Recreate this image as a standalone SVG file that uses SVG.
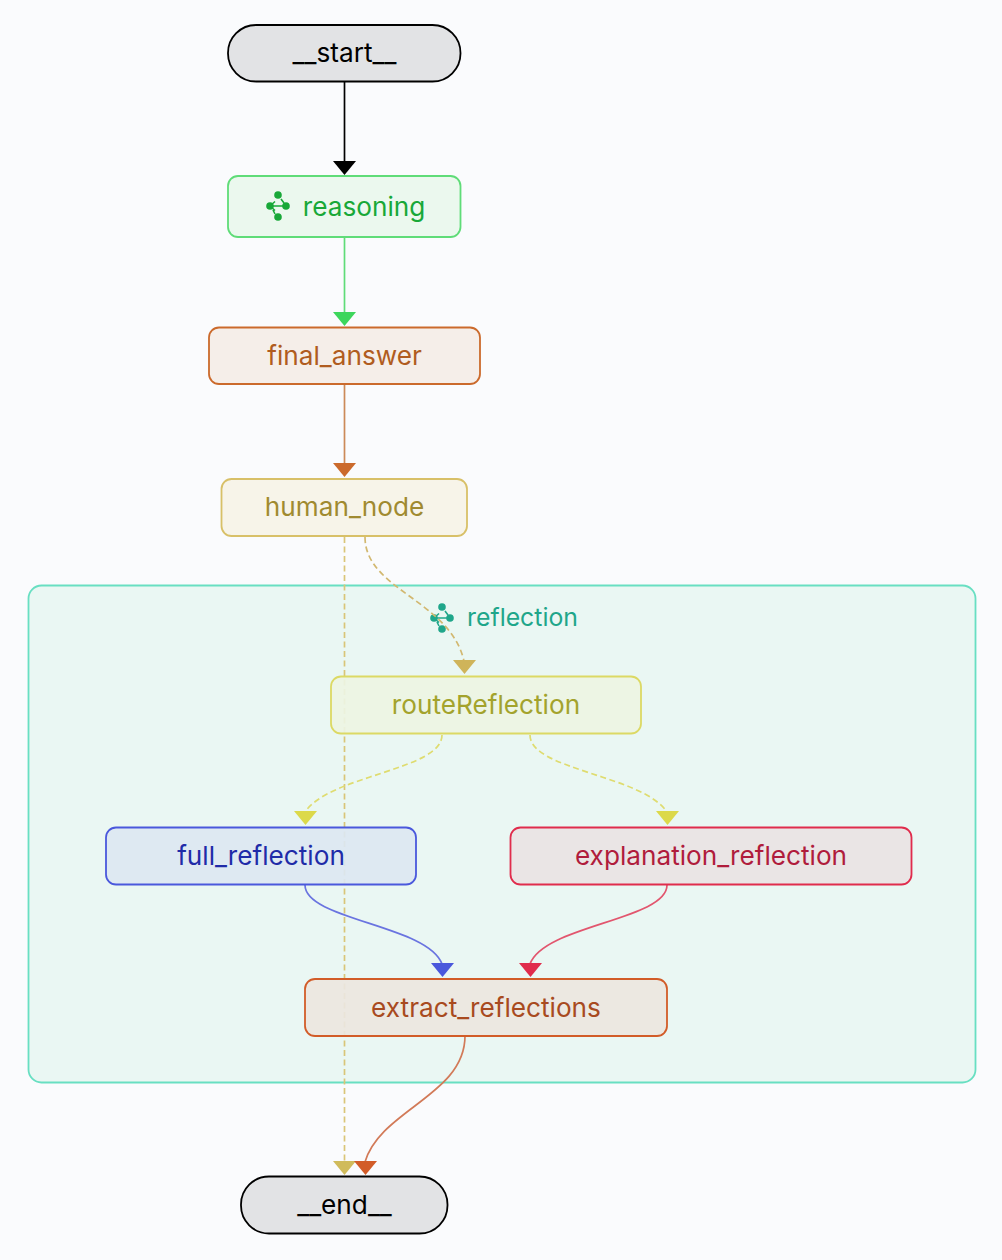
<svg xmlns="http://www.w3.org/2000/svg" width="1002" height="1260" viewBox="0 0 1002 1260">
<style>
text{font-family:Inter,"Liberation Sans",sans-serif;font-size:26.2px;text-anchor:middle;dominant-baseline:central}
.e{fill:none;stroke-width:1.7}
.d{stroke-dasharray:6 3.5}
rect{stroke-width:1.8}
</style>
<defs>
<g id="icon"><circle cx="0" cy="-11" r="3.8"/><circle cx="8" cy="0" r="3.8"/><circle cx="-8" cy="0" r="3.8"/><circle cx="0" cy="11" r="3.8"/><path d="M-8 0H8M-8 0L-3 -4.500M-8 0L-3 4.500M3 -7L6 -3M-5 4L-3 8" fill="none" stroke="currentColor" stroke-width="1.6"/></g>
</defs>
<rect width="1002" height="1260" fill="#fafbfd" style="stroke:none"/>
<g id="reflection">
<rect x="28.500" y="585.500" width="947" height="497" rx="13" fill="#eaf7f3" stroke="#68dfc2"/>
<use href="#icon" x="442" y="618" fill="#1fa68a" color="#1fa68a"/>
<text x="522.500" y="617" fill="#1fa68a" style="font-size:24.800px">reflection</text>
</g>
<g id="connectors">
<path class="e" stroke="#000" d="M344.500 82V163"/><path fill="#000" d="M333 161H356L344.500 175Z"/>
<path class="e" stroke="#5fdc78" d="M344.500 237V314"/><path fill="#3dd65c" d="M333 312H356L344.500 326Z"/>
<path class="e" stroke="#cc8a58" d="M344.500 385V465"/><path fill="#cb6a2c" d="M333 463H356L344.500 477Z"/>
<path class="e d" stroke="#d9c578" d="M344.500 537V1162"/><path fill="#d0bb5c" d="M333 1161H356L344.500 1175Z"/>
<path class="e d" stroke="#d2b870" d="M365 537C365 590 450 600 464 661"/><path fill="#cfb45a" d="M453 660H476L464.500 674Z"/>
<path class="e d" stroke="#dfdc70" d="M442 735C442 770 330 775 305 812"/><path fill="#dcd94a" d="M294 811H317L305.500 825Z"/>
<path class="e d" stroke="#dfdc70" d="M530 735C530 770 642 775 667 812"/><path fill="#dcd94a" d="M656 811H679L667.500 825Z"/>
<path class="e" stroke="#6a74e0" d="M305 885C305 920 428 925 442 964"/><path fill="#4a58dc" d="M431 963H454L442.500 977Z"/>
<path class="e" stroke="#e2566e" d="M667 885C667 920 544 925 530 964"/><path fill="#e02c4c" d="M519 963H542L530.500 977Z"/>
<path class="e" stroke="#d27a58" d="M465 1036C465 1095 380 1110 365 1162"/><path fill="#d25c28" d="M354 1161H377L365.500 1175Z"/>
</g>
<g id="start"><rect x="228" y="25" width="232.500" height="56.500" rx="28" fill="#e2e3e5" stroke="#000"/><text x="344.500" y="52" fill="#000">__start__</text></g>
<g id="reasoning"><rect x="228" y="176" width="232.500" height="61" rx="10" fill="#ebf8ee" stroke="#5fdc78"/><use href="#icon" x="278" y="206" fill="#18a838" color="#18a838"/><text x="364" y="206" fill="#18a838">reasoning</text></g>
<g id="final_answer"><rect x="209" y="327.500" width="271" height="56.500" rx="10" fill="#f5eee9" stroke="#cb6a2c"/><text x="344.500" y="355" fill="#b05c20">final_answer</text></g>
<g id="human_node"><rect x="221.500" y="479" width="245.500" height="57" rx="10" fill="#f7f4e9" stroke="#d8c068"/><text x="344.500" y="506" fill="#a08a30">human_node</text></g>
<g id="routeReflection"><rect x="331" y="676.500" width="310" height="57" rx="10" fill="#edf4e3" fill-opacity=".92" stroke="#dcd964"/><text x="486" y="704" fill="#a3a32c">routeReflection</text></g>
<g id="full_reflection"><rect x="106" y="827.500" width="310" height="57" rx="10" fill="#dce7f2" fill-opacity=".92" stroke="#4a58dc"/><text x="261" y="855" fill="#1f2ba8">full_reflection</text></g>
<g id="explanation_reflection"><rect x="510.500" y="827.500" width="401" height="57" rx="10" fill="#eae5e5" stroke="#e02c4c"/><text x="711" y="855" fill="#b01c3c">explanation_reflection</text></g>
<g id="extract_reflections"><rect x="305" y="979" width="362" height="57" rx="10" fill="#ebe6e0" fill-opacity=".92" stroke="#d25c28"/><text x="486" y="1007" fill="#a84a20">extract_reflections</text></g>
<g id="end"><rect x="241" y="1176.500" width="206.500" height="57" rx="28" fill="#e2e3e5" stroke="#000"/><text x="344.500" y="1204" fill="#000">__end__</text></g>
</svg>
